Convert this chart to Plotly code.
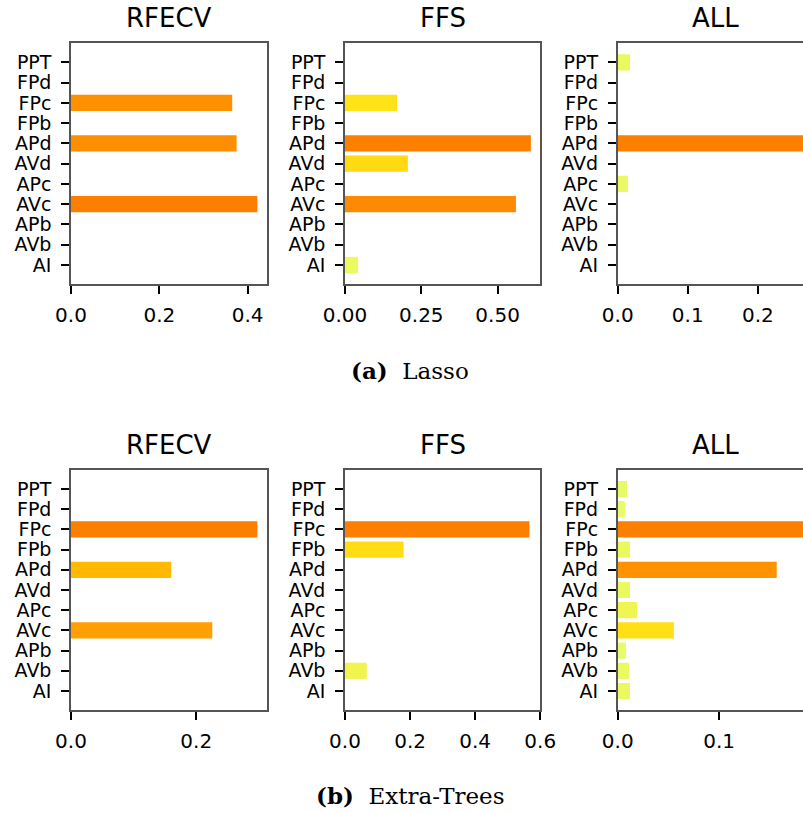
import plotly.graph_objects as go

W, H = 803, 813

# Feature names, bottom (index 0) to top
features = ["AI", "AVb", "APb", "AVc", "APc", "AVd", "APd", "FPb", "FPc", "FPd", "PPT"]

# Lasso importances (same order as features)
lasso_rfecv = [0, 0, 0, 0.422, 0, 0, 0.375, 0, 0.365, 0, 0]
lasso_ffs = [0.043, 0, 0, 0.560, 0, 0.206, 0.609, 0, 0.171, 0, 0]
lasso_all = [0, 0, 0, 0, 0.0147, 0, 0.265, 0, 0, 0, 0.0176]

# Extra-Trees importances
et_rfecv = [0, 0, 0, 0.2256, 0, 0, 0.160, 0, 0.2976, 0, 0]
et_ffs = [0, 0.067, 0, 0, 0, 0, 0, 0.180, 0.567, 0, 0]
et_all = [0.0121, 0.0111, 0.0082, 0.0554, 0.019, 0.0121, 0.1567, 0.0121, 0.183, 0.0072, 0.0092]

titles = ["RFECV", "FFS", "ALL"]
captions = ["<b>(a)</b>  Lasso", "<b>(b)</b>  Extra-Trees"]

wistia = [[0.0, "rgb(228,255,122)"], [0.25, "rgb(255,232,26)"], [0.5, "rgb(255,189,0)"],
          [0.75, "rgb(255,160,0)"], [1.0, "rgb(252,127,0)"]]

rows = [
    dict(series=[lasso_rfecv, lasso_ffs, lasso_all],
         ticks=[[0, 0.2, 0.4], [0, 0.25, 0.5], [0, 0.1, 0.2]],
         fmt=[".1f", ".2f", ".1f"], top=43.3, bottom=284.0, title_y=18, caption_y=370),
    dict(series=[et_rfecv, et_ffs, et_all],
         ticks=[[0, 0.2], [0, 0.2, 0.4, 0.6], [0, 0.1]],
         fmt=[".1f", ".1f", ".1f"], top=470.0, bottom=710.0, title_y=445, caption_y=795),
]
cols = [(71.0, 266.7), (345.0, 540.2), (617.7, 812.7)]

fig = go.Figure()
XTICKFONT = dict(family="DejaVu Sans", size=20, color="black")
YTICKFONT = dict(family="DejaVu Sans", size=19, color="black")
SPINE = "#555555"
ann = []
k = 0
for r, row in enumerate(rows):
    for c in range(3):
        k += 1
        vals = row["series"][c]
        vmax = max(vals)
        x0, x1 = cols[c]
        xmax = 1.05 * vmax
        if c == 1 and r == 1:
            xmax = 0.6
        dom_right = min(x1, W)
        xr = xmax * (dom_right - x0) / (x1 - x0)
        xa = "x" if k == 1 else f"x{k}"
        ya = "y" if k == 1 else f"y{k}"
        fig.add_trace(go.Bar(
            x=vals, y=features, orientation="h", width=0.8,
            marker=dict(color=vals, colorscale=wistia, cmin=0, cmax=vmax, line=dict(width=0)),
            xaxis=xa, yaxis=ya, showlegend=False, hoverinfo="x+y"))
        xkey = "xaxis" if k == 1 else f"xaxis{k}"
        ykey = "yaxis" if k == 1 else f"yaxis{k}"
        fig.layout[xkey] = dict(
            domain=[x0 / W, dom_right / W], range=[0, xr], anchor=ya,
            tickmode="array", tickvals=row["ticks"][c], tickformat=row["fmt"][c],
            ticks="outside", ticklen=8, tickwidth=1.6, tickcolor="black",
            showline=True, linecolor=SPINE, linewidth=1.5, mirror=True,
            showgrid=False, zeroline=False, tickfont=XTICKFONT, ticklabelstandoff=4,
            automargin=False, fixedrange=True)
        fig.layout[ykey] = dict(
            domain=[1 - row["bottom"] / H, 1 - row["top"] / H], anchor=xa,
            type="category", categoryorder="array", categoryarray=features,
            tickmode="array", tickvals=features, ticktext=features,
            range=[-0.94, 10.94],
            ticks="outside", ticklen=8, tickwidth=1.6, tickcolor="black",
            showline=True, linecolor=SPINE, linewidth=1.5, mirror=(c < 2),
            showgrid=False, zeroline=False, tickfont=YTICKFONT, ticklabelstandoff=6,
            automargin=False, fixedrange=True)
        ann.append(dict(text=titles[c], x=(x0 + x1) / 2 / W, y=1 - row["title_y"] / H,
                        xref="paper", yref="paper", xanchor="center", yanchor="middle",
                        showarrow=False,
                        font=dict(family="DejaVu Sans", size=26, color="black")))
    ann.append(dict(text=captions[r], x=410 / W, y=1 - row["caption_y"] / H,
                    xref="paper", yref="paper", xanchor="center", yanchor="middle",
                    showarrow=False,
                    font=dict(family="DejaVu Serif", size=23, color="black")))

fig.update_layout(
    template="none",
    width=W, height=H, margin=dict(l=0, r=0, t=0, b=0, autoexpand=False),
    paper_bgcolor="white", plot_bgcolor="white",
    annotations=ann, bargap=0.2)

fig.write_html("out.html")
